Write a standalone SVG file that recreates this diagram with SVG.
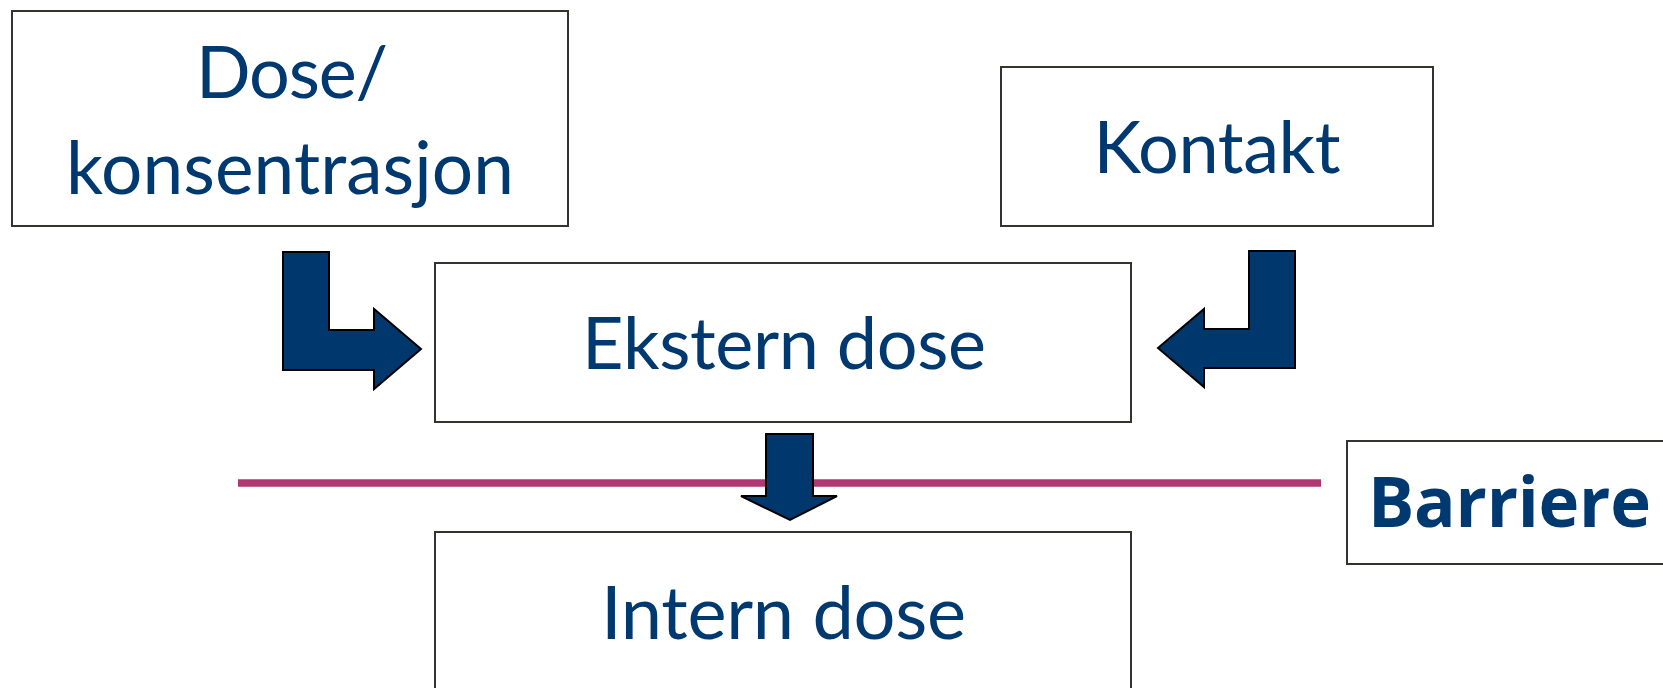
<svg xmlns="http://www.w3.org/2000/svg" width="1663" height="688" viewBox="0 0 1663 688">
<style>
.box{fill:#ffffff;stroke:#35322f;stroke-width:2}
.lbl{font-family:Lato,"Noto Sans",sans-serif;fill:#003870;text-anchor:middle}
.bold{font-family:"Open Sans","Noto Sans",sans-serif;font-weight:bold}
.arr{fill:#00386e;stroke:#000000;stroke-width:2;stroke-linejoin:miter}
</style>
<rect width="1663" height="688" fill="#ffffff"/>
<g id="connectors">
<line x1="238" y1="483" x2="1321" y2="483" stroke="#b03772" stroke-width="7.5"/>
<path class="arr" d="M283,252 L329,252 L329,330 L374,330 L374,309 L421,349 L374,389 L374,370 L283,370 Z"/>
<path class="arr" d="M1295,251 L1249,251 L1249,329 L1204,329 L1204,309 L1158,348 L1204,387 L1204,368 L1295,368 Z"/>
<path class="arr" d="M766,434 L813,434 L813,496 L837,496 L790,520 L741,496 L766,496 Z"/>
</g>
<g id="dose-konsentrasjon">
<rect class="box" x="12" y="11" width="556" height="215"/>
<text class="lbl" x="292" y="97.6" font-size="72" textLength="192">Dose/</text>
<text class="lbl" x="290" y="194" font-size="73" textLength="448">konsentrasjon</text>
</g>
<g id="kontakt">
<rect class="box" x="1001" y="67" width="432" height="159"/>
<text class="lbl" x="1217" y="173" font-size="72" textLength="247">Kontakt</text>
</g>
<g id="ekstern-dose">
<rect class="box" x="435" y="263" width="696" height="159"/>
<text class="lbl" x="784" y="369" font-size="72" textLength="404">Ekstern dose</text>
</g>
<g id="intern-dose">
<rect class="box" x="435" y="532" width="696" height="170"/>
<text class="lbl" x="783.5" y="638.5" font-size="74" textLength="365">Intern dose</text>
</g>
<g id="barriere">
<rect class="box" x="1347" y="441" width="330" height="123"/>
<text class="lbl bold" x="1509.5" y="527" font-size="69" textLength="283">Barriere</text>
</g>
</svg>
